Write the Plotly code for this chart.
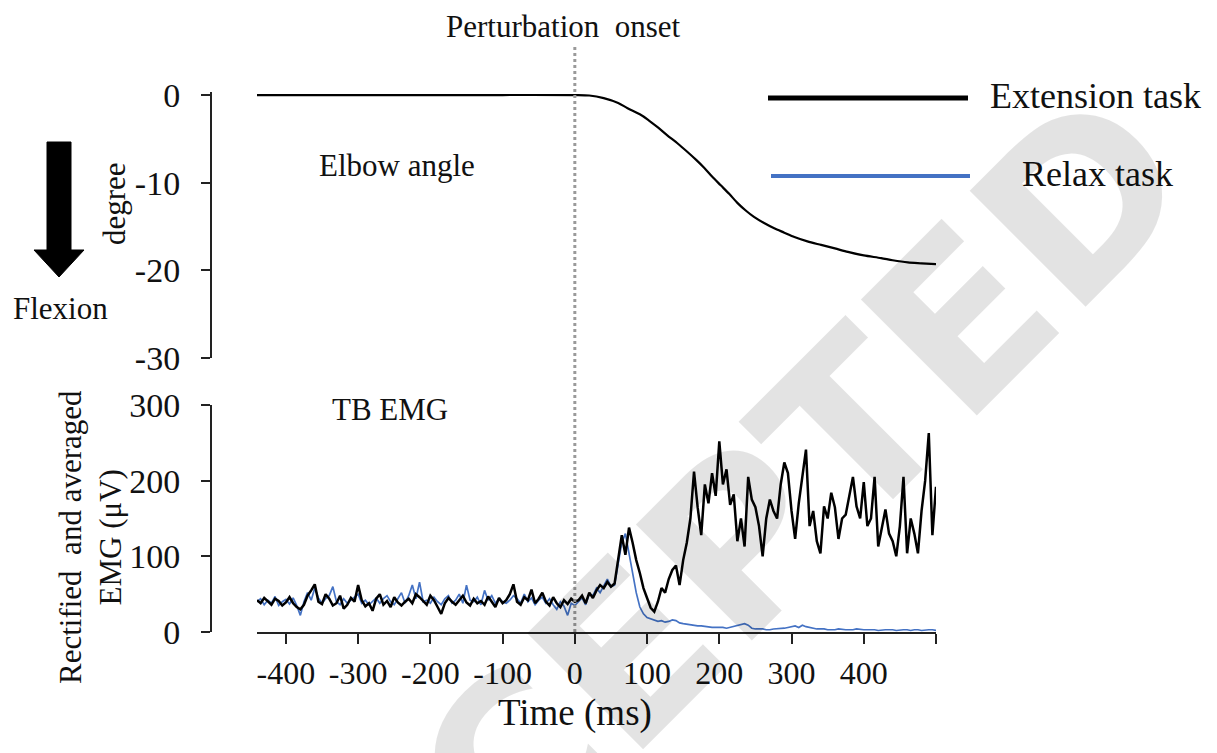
import plotly.graph_objects as go

# The page body has an 8px margin; the figure is sized so that it fills the
# 1217x753 window exactly from that offset.
OFF = 8
W, H = 1217 - OFF, 753 - OFF


def fx(p):
    return (p - OFF) / W


def fy(p):
    return 1 - (p - OFF) / H


# ---------------- data ----------------
# Time axis of the EMG traces (ms)
t_emg = list(range(-440, 501, 5))

# Rectified and averaged TB EMG, extension task (uV)
emg_ext = [
    42, 38, 45, 40, 36, 44, 41, 35, 39, 46,
    38, 33, 30, 36, 48, 55, 63, 40, 37, 50,
    44, 35, 38, 48, 31, 36, 45, 40, 62, 42,
    34, 38, 28, 44, 50, 36, 41, 33, 46, 39,
    35, 40, 44, 38, 50, 46, 41, 36, 48, 42,
    33, 24, 38, 45, 40, 36, 42, 48, 39, 35,
    44, 38, 41, 36, 47, 40, 33, 45, 38, 42,
    50, 63, 40, 36, 46, 42, 56, 38, 44, 52,
    40, 35, 46, 38, 33, 42, 37, 44, 40,
    42, 48, 38, 52, 45, 55, 62, 58, 66, 60,
    64, 95, 128, 102, 138, 118, 95, 78, 58, 45,
    32, 27, 40, 58, 52, 70, 82, 88, 62, 95,
    118, 150, 212, 165, 128, 195, 170, 210, 180, 252,
    195, 215, 168, 182, 120, 150, 113, 205, 175, 165,
    140, 100, 150, 175, 160, 150, 195, 224, 210, 160,
    123, 170, 205, 241, 140, 160, 120, 104, 166, 150,
    184, 165, 123, 150, 155, 180, 205, 166, 150, 198,
    140, 150, 205, 113, 140, 162, 130, 120, 100, 140,
    205, 104, 150, 130, 104, 160, 200, 263, 128, 192,
]

# Rectified and averaged TB EMG, relax task (uV)
emg_relax = [
    40, 44, 36, 42, 38, 47, 35, 40, 43, 37,
    45, 35, 22, 40, 52, 42, 58, 45, 38, 44,
    48, 60, 40, 36, 44, 38, 42, 46, 50, 38,
    42, 36, 40, 45, 38, 44, 48, 40, 36, 45,
    52, 38, 48, 62, 44, 66, 40, 42, 38, 46,
    40, 36, 44, 48, 38, 42, 50, 38, 62, 42,
    40, 46, 36, 55, 42, 48, 38, 44, 40, 38,
    42, 48, 44, 38, 50, 40, 45, 36, 42, 46,
    38, 44, 36, 30, 40, 34, 22, 38, 35,
    40, 45, 36, 50, 48, 58, 52, 62, 70, 60,
    62, 90, 118, 130, 105, 80, 52, 33, 24, 19,
    17, 16, 14, 15, 13, 14, 16, 15, 12, 11,
    10, 10, 9, 8, 8, 7, 7, 6, 6, 6,
    6, 5, 6, 7, 8, 9, 11, 9, 5, 4,
    4, 4, 3, 3, 4, 4, 5, 5, 6, 7,
    8, 6, 9, 7, 6, 5, 4, 4, 4, 3,
    3, 3, 4, 3, 3, 3, 3, 4, 3, 3,
    3, 3, 3, 2, 3, 3, 3, 3, 2, 3,
    3, 3, 2, 3, 3, 2, 3, 3, 3, 2,
]

# Elbow angle, extension task (degree)
t_angle = [-440, -300, -100, 0, 20, 40, 60, 73, 90, 101, 115, 128, 142, 156,
           168, 179, 190, 202, 214, 225, 237, 248, 262, 276, 290, 304, 322,
           341, 360, 378, 400, 424, 440, 461, 480, 500]
angle_ext = [0, 0, 0, 0, -0.05, -0.35, -0.9, -1.5, -2.2, -2.8, -3.7, -4.6,
             -5.5, -6.5, -7.4, -8.3, -9.3, -10.3, -11.3, -12.3, -13.2, -13.9,
             -14.6, -15.2, -15.7, -16.2, -16.7, -17.1, -17.5, -17.9, -18.3,
             -18.6, -18.85, -19.1, -19.2, -19.3]

x_tickvals = [-400, -300, -200, -100, 0, 100, 200, 300, 400, 500]
x_ticktext = ["-400", "-300", "-200", "-100", "0", "100", "200", "300", "400", ""]
angle_tickvals = [0, -10, -20, -30]
angle_ticktext = ["0", "-10", "-20", "-30"]
emg_tickvals = [0, 100, 200, 300]
emg_ticktext = ["0", "100", "200", "300"]

series_names = ["Extension task", "Relax task"]
series_colors = ["#000000", "#4472C4"]

SERIF = "Liberation Serif"

# ---------------- figure ----------------
fig = go.Figure()

fig.add_trace(go.Scatter(
    x=t_angle, y=angle_ext, xaxis="x", yaxis="y", mode="lines",
    name=series_names[0],
    line=dict(color=series_colors[0], width=2.2, shape="spline", smoothing=0.8),
))
fig.add_trace(go.Scatter(
    x=t_emg, y=emg_relax, xaxis="x", yaxis="y2", mode="lines",
    name=series_names[1], line=dict(color=series_colors[1], width=1.7),
))
fig.add_trace(go.Scatter(
    x=t_emg, y=emg_ext, xaxis="x", yaxis="y2", mode="lines",
    name=series_names[0], line=dict(color=series_colors[0], width=2.5),
))

axis_common = dict(
    showline=True, linecolor="#222", linewidth=2, showgrid=False,
    zeroline=False, ticks="outside", tickcolor="#222", tickwidth=2,
    automargin=False,
)

fig.update_layout(
    width=W, height=H,
    margin=dict(l=0, r=0, t=0, b=0, pad=0),
    paper_bgcolor="white", plot_bgcolor="white",
    showlegend=False,
    xaxis=dict(
        domain=[fx(257), fx(936)], range=[-440, 500], anchor="y2",
        tickvals=x_tickvals, ticktext=x_ticktext, ticklen=10,
        ticklabelstandoff=2,
        tickfont=dict(family=SERIF, size=32, color="#111"),
        **axis_common,
    ),
    yaxis=dict(
        domain=[fy(358), fy(92.4)], range=[-30, 0.3], anchor="free",
        position=fx(211), tickvals=angle_tickvals, ticktext=angle_ticktext,
        ticklen=9, ticklabelstandoff=14,
        tickfont=dict(family=SERIF, size=34, color="#111"),
        **axis_common,
    ),
    yaxis2=dict(
        domain=[fy(632), fy(405)], range=[0, 300], anchor="free",
        position=fx(211), tickvals=emg_tickvals, ticktext=emg_ticktext,
        ticklen=9, ticklabelstandoff=14,
        tickfont=dict(family=SERIF, size=34, color="#111"),
        **axis_common,
    ),
)

# perturbation onset dotted line
fig.add_shape(type="line", xref="x", yref="paper", x0=0, x1=0,
              y0=fy(632), y1=fy(46),
              line=dict(color="#9a9a9a", width=3, dash="dot"))

# legend samples
fig.add_shape(type="line", xref="paper", yref="paper",
              x0=fx(768), x1=fx(968), y0=fy(98), y1=fy(98),
              line=dict(color=series_colors[0], width=5))
fig.add_shape(type="line", xref="paper", yref="paper",
              x0=fx(771), x1=fx(970), y0=fy(176), y1=fy(176),
              line=dict(color=series_colors[1], width=4))

# flexion arrow
arrow_path = (
    f"M {fx(47)} {fy(142)} L {fx(71)} {fy(142)} L {fx(71)} {fy(250)} "
    f"L {fx(84)} {fy(250)} L {fx(59)} {fy(277)} L {fx(34)} {fy(250)} "
    f"L {fx(47)} {fy(250)} Z"
)
fig.add_shape(type="path", xref="paper", yref="paper", path=arrow_path,
              fillcolor="black", line=dict(color="black", width=1))


def label(text, px, py, size=31, angle=0, xanchor="center"):
    fig.add_annotation(
        text=text, x=fx(px), y=fy(py), xref="paper", yref="paper",
        xanchor=xanchor, yanchor="middle", showarrow=False, textangle=angle,
        font=dict(family=SERIF, size=size, color="#111"),
    )


label("Perturbation&nbsp;&nbsp;onset", 563, 27, size=31)
label("Elbow angle", 397, 165, size=31)
label("TB EMG", 390, 410, size=31)
label("degree", 115, 204, size=31, angle=-90)
label("Flexion", 60, 308, size=31)
label("Rectified&nbsp;&nbsp;and averaged<br>EMG (μV)", 90, 537, size=31, angle=-90)
label("Time (ms)", 575, 713, size=37)
label(series_names[0], 988, 96, size=36, xanchor="left")
label(series_names[1], 1020, 174, size=36, xanchor="left")

# watermark
fig.add_annotation(
    text="ACCEPTED", x=fx(682), y=fy(600), xref="paper", yref="paper",
    showarrow=False, textangle=-45, xanchor="center", yanchor="middle",
    font=dict(family="DejaVu Sans", size=225, color="rgba(0,0,0,0.11)",
              weight="bold"),
)

fig.write_html("out.html")
